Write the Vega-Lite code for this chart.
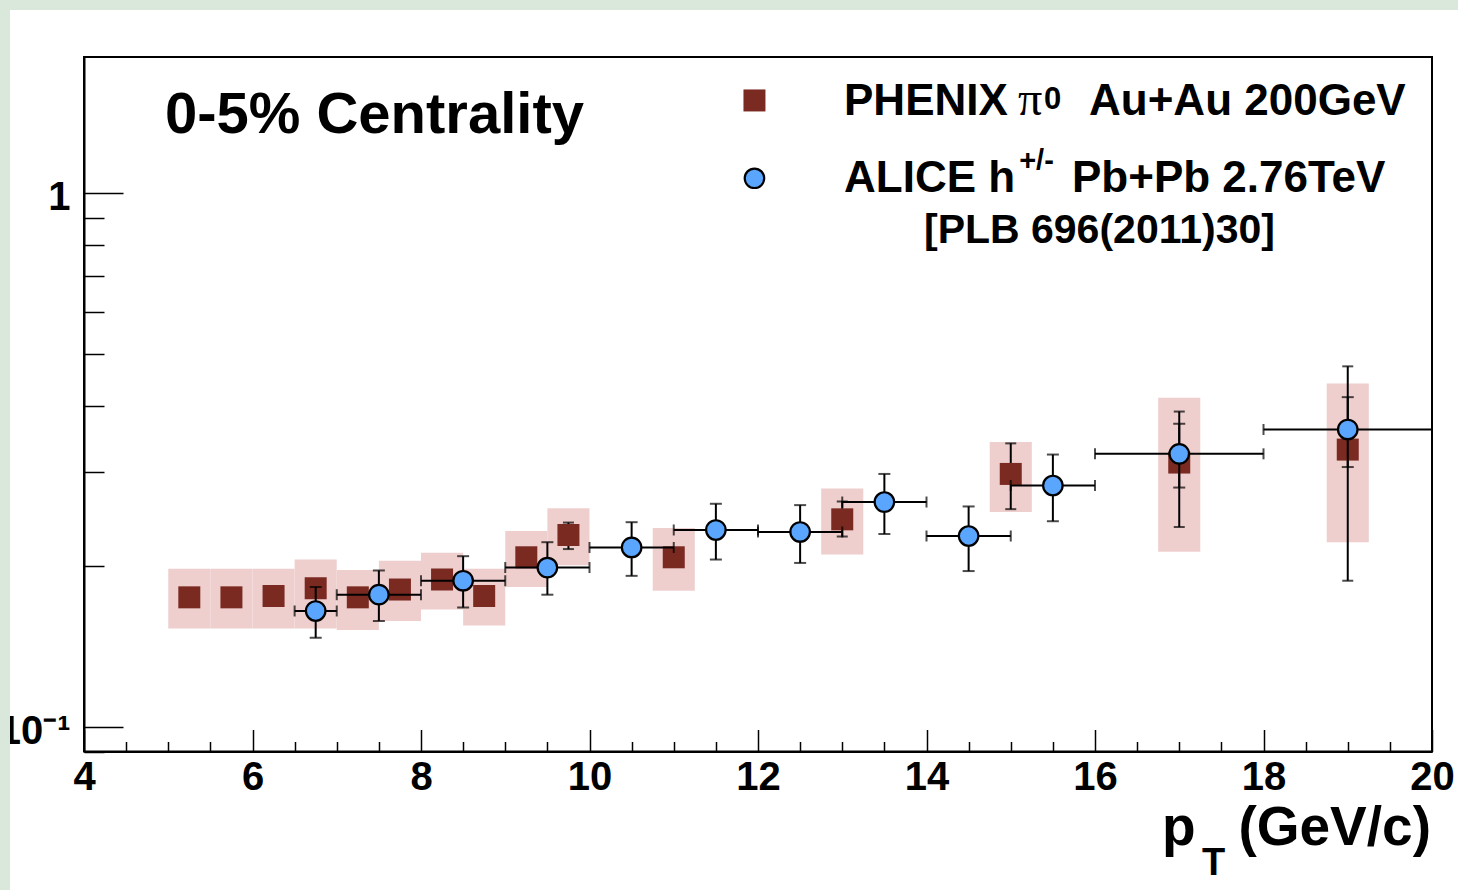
{
  "$schema": "https://vega.github.io/schema/vega-lite/v6.json",
  "autosize": {"type": "none"},
  "width": 1348,
  "height": 694.5,
  "padding": {"left": 84, "top": 57, "right": 26, "bottom": 138.5},
  "background": "white",
  "config": {
    "view": {"stroke": "black", "strokeWidth": 2},
    "font": "Liberation Sans"
  },
  "datasets": {
    "phenix": [
      {"pt": 5.25, "raa": 0.175, "sys_lo": 0.153, "sys_hi": 0.198},
      {"pt": 5.75, "raa": 0.175, "sys_lo": 0.153, "sys_hi": 0.198},
      {"pt": 6.25, "raa": 0.176, "sys_lo": 0.153, "sys_hi": 0.198},
      {"pt": 6.75, "raa": 0.182, "sys_lo": 0.153, "sys_hi": 0.206},
      {"pt": 7.25, "raa": 0.175, "sys_lo": 0.152, "sys_hi": 0.197},
      {"pt": 7.75, "raa": 0.181, "sys_lo": 0.158, "sys_hi": 0.205},
      {"pt": 8.25, "raa": 0.189, "sys_lo": 0.166, "sys_hi": 0.212},
      {"pt": 8.75, "raa": 0.176, "sys_lo": 0.155, "sys_hi": 0.198},
      {"pt": 9.25, "raa": 0.208, "sys_lo": 0.183, "sys_hi": 0.233},
      {"pt": 9.75, "raa": 0.229, "sys_lo": 0.201, "sys_hi": 0.257, "stat_lo": 0.2155, "stat_hi": 0.2416},
      {"pt": 11, "raa": 0.208, "sys_lo": 0.18, "sys_hi": 0.236},
      {"pt": 13, "raa": 0.245, "sys_lo": 0.2105, "sys_hi": 0.28, "stat_lo": 0.2275, "stat_hi": 0.2646},
      {"pt": 15, "raa": 0.298, "sys_lo": 0.253, "sys_hi": 0.342, "stat_lo": 0.256, "stat_hi": 0.34},
      {"pt": 17, "raa": 0.313, "sys_lo": 0.213, "sys_hi": 0.414, "stat_lo": 0.237, "stat_hi": 0.39},
      {"pt": 19, "raa": 0.331, "sys_lo": 0.222, "sys_hi": 0.44, "stat_lo": 0.188, "stat_hi": 0.474}
    ],
    "alice": [
      {"pt": 6.75, "pt_lo": 6.5, "pt_hi": 7, "raa": 0.165, "err_lo": 0.147, "err_hi": 0.183},
      {"pt": 7.5, "pt_lo": 7, "pt_hi": 8, "raa": 0.177, "err_lo": 0.158, "err_hi": 0.1965},
      {"pt": 8.5, "pt_lo": 8, "pt_hi": 9, "raa": 0.188, "err_lo": 0.1675, "err_hi": 0.209},
      {"pt": 9.5, "pt_lo": 9, "pt_hi": 10, "raa": 0.199, "err_lo": 0.177, "err_hi": 0.222},
      {"pt": 10.5, "pt_lo": 10, "pt_hi": 11, "raa": 0.217, "err_lo": 0.192, "err_hi": 0.242},
      {"pt": 11.5, "pt_lo": 11, "pt_hi": 12, "raa": 0.234, "err_lo": 0.206, "err_hi": 0.262},
      {"pt": 12.5, "pt_lo": 12, "pt_hi": 13, "raa": 0.232, "err_lo": 0.203, "err_hi": 0.2605},
      {"pt": 13.5, "pt_lo": 13, "pt_hi": 14, "raa": 0.264, "err_lo": 0.23, "err_hi": 0.298},
      {"pt": 14.5, "pt_lo": 14, "pt_hi": 15, "raa": 0.228, "err_lo": 0.196, "err_hi": 0.259},
      {"pt": 15.5, "pt_lo": 15, "pt_hi": 16, "raa": 0.2835, "err_lo": 0.243, "err_hi": 0.324},
      {"pt": 17, "pt_lo": 16, "pt_hi": 18, "raa": 0.325, "err_lo": 0.281, "err_hi": 0.37},
      {"pt": 19, "pt_lo": 18, "pt_hi": 20, "raa": 0.361, "err_lo": 0.307, "err_hi": 0.415}
    ]
  },
  "resolve": {"axis": {"x": "independent", "y": "independent"}},
  "layer": [
    {
      "data": {"name": "phenix"},
      "mark": {"type": "bar", "width": 42.1, "color": "#eecfce"},
      "encoding": {
        "x": {
          "field": "pt", "type": "quantitative",
          "scale": {"domain": [4, 20], "nice": false, "zero": false, "padding": 0},
          "axis": {
            "orient": "bottom", "values": [4, 6, 8, 10, 12, 14, 16, 18, 20], "format": "d",
            "tickSize": -22, "tickWidth": 1.5, "tickColor": "black",
            "domainColor": "black", "domainWidth": 2, "grid": false, "title": null,
            "labelFont": "Liberation Sans", "labelFontWeight": "bold", "labelFontSize": 40,
            "labelColor": "black", "labelPadding": 28, "labelFlush": false, "labelOverlap": false
          }
        },
        "y": {
          "field": "sys_lo", "type": "quantitative",
          "scale": {"type": "log", "domain": [0.09, 1.8], "nice": false, "padding": 0},
          "axis": {
            "orient": "left", "values": [0.1, 1],
            "labelExpr": "datum.value >= 1 ? '1' : '10\u207b\u00b9'",
            "tickSize": -39, "tickWidth": 1.5, "tickColor": "black",
            "domainColor": "black", "domainWidth": 2, "grid": false, "title": null,
            "labelFont": "Liberation Sans", "labelFontWeight": "bold", "labelFontSize": 40,
            "labelColor": "black", "labelPadding": 53, "labelOffset": 4, "labelOverlap": false
          }
        },
        "y2": {"field": "sys_hi"}
      }
    },
    {
      "data": {"name": "phenix"},
      "transform": [{"filter": "isValid(datum.stat_lo)"}],
      "mark": {"type": "errorbar", "color": "black", "thickness": 2, "ticks": {"size": 11, "thickness": 2, "color": "black"}},
      "encoding": {
        "x": {"field": "pt", "type": "quantitative", "axis": null},
        "y": {"field": "stat_lo", "type": "quantitative", "axis": null},
        "y2": {"field": "stat_hi"}
      }
    },
    {
      "data": {"name": "phenix"},
      "mark": {"type": "point", "shape": "square", "filled": true, "size": 484, "color": "#7b2a21", "opacity": 1},
      "encoding": {
        "x": {
          "field": "pt", "type": "quantitative",
          "axis": {
            "orient": "bottom", "values": [4.5, 5, 5.5, 6.5, 7, 7.5, 8.5, 9, 9.5, 10.5, 11, 11.5, 12.5, 13, 13.5, 14.5, 15, 15.5, 16.5, 17, 17.5, 18.5, 19, 19.5],
            "tickSize": -10, "tickWidth": 1.5, "tickColor": "black",
            "domain": false, "labels": false, "grid": false, "title": null
          }
        },
        "y": {
          "field": "raa", "type": "quantitative",
          "axis": {
            "orient": "left", "values": [0.09, 0.2, 0.3, 0.4, 0.5, 0.6, 0.7, 0.8, 0.9],
            "tickSize": -20, "tickWidth": 1.5, "tickColor": "black",
            "domain": false, "labels": false, "grid": false, "title": null
          }
        }
      }
    },
    {
      "data": {"name": "alice"},
      "mark": {"type": "errorbar", "color": "black", "thickness": 2, "ticks": {"size": 12, "thickness": 2, "color": "black"}},
      "encoding": {
        "x": {"field": "pt", "type": "quantitative", "axis": null},
        "y": {"field": "err_lo", "type": "quantitative", "axis": null},
        "y2": {"field": "err_hi"}
      }
    },
    {
      "data": {"name": "alice"},
      "mark": {"type": "errorbar", "color": "black", "thickness": 2, "ticks": {"size": 11, "thickness": 2, "color": "black"}},
      "encoding": {
        "x": {"field": "pt_lo", "type": "quantitative", "axis": null},
        "x2": {"field": "pt_hi"},
        "y": {"field": "raa", "type": "quantitative", "axis": null}
      }
    },
    {
      "data": {"name": "alice"},
      "mark": {"type": "point", "shape": "circle", "filled": true, "size": 380, "fill": "#5aa6ff", "stroke": "black", "strokeWidth": 2.2, "opacity": 1},
      "encoding": {
        "x": {"field": "pt", "type": "quantitative", "axis": null},
        "y": {"field": "raa", "type": "quantitative", "axis": null}
      }
    },
    {
      "data": {"values": [{}]},
      "mark": {"type": "point", "shape": "square", "filled": true, "size": 484, "color": "#7b2a21", "opacity": 1},
      "encoding": {
        "x": {"datum": 11.958, "type": "quantitative", "axis": null},
        "y": {"datum": 1.4924, "type": "quantitative", "axis": null}
      }
    },
    {
      "data": {"values": [{}]},
      "mark": {"type": "point", "shape": "circle", "filled": true, "size": 380, "fill": "#5aa6ff", "stroke": "black", "strokeWidth": 2.2, "opacity": 1},
      "encoding": {
        "x": {"datum": 11.958, "type": "quantitative", "axis": null},
        "y": {"datum": 1.0668, "type": "quantitative", "axis": null}
      }
    },
    {
      "data": {"values": [{}]},
      "mark": {"type": "text", "text": "0-5% Centrality", "font": "Liberation Sans", "fontWeight": "bold", "fontSize": 58, "align": "left", "baseline": "alphabetic", "color": "black"},
      "encoding": {
        "x": {"datum": 4.961, "type": "quantitative", "axis": null},
        "y": {"datum": 1.2971, "type": "quantitative", "axis": null}
      }
    },
    {
      "data": {"values": [{}]},
      "mark": {"type": "text", "text": "PHENIX", "font": "Liberation Sans", "fontWeight": "bold", "fontSize": 44, "align": "left", "baseline": "alphabetic", "color": "black"},
      "encoding": {
        "x": {"datum": 13.021, "type": "quantitative", "axis": null},
        "y": {"datum": 1.4018, "type": "quantitative", "axis": null}
      }
    },
    {
      "data": {"values": [{}]},
      "mark": {"type": "text", "text": "\u03c0", "font": "Liberation Serif", "fontSize": 48, "align": "left", "baseline": "alphabetic", "color": "black"},
      "encoding": {
        "x": {"datum": 15.085, "type": "quantitative", "axis": null},
        "y": {"datum": 1.4018, "type": "quantitative", "axis": null}
      }
    },
    {
      "data": {"values": [{}]},
      "mark": {"type": "text", "text": "0", "font": "Liberation Sans", "fontWeight": "bold", "fontSize": 31, "align": "left", "baseline": "alphabetic", "color": "black"},
      "encoding": {
        "x": {"datum": 15.395, "type": "quantitative", "axis": null},
        "y": {"datum": 1.437, "type": "quantitative", "axis": null}
      }
    },
    {
      "data": {"values": [{}]},
      "mark": {"type": "text", "text": "Au+Au 200GeV", "font": "Liberation Sans", "fontWeight": "bold", "fontSize": 44, "align": "left", "baseline": "alphabetic", "color": "black"},
      "encoding": {
        "x": {"datum": 15.929, "type": "quantitative", "axis": null},
        "y": {"datum": 1.4018, "type": "quantitative", "axis": null}
      }
    },
    {
      "data": {"values": [{}]},
      "mark": {"type": "text", "text": "ALICE h", "font": "Liberation Sans", "fontWeight": "bold", "fontSize": 44, "align": "left", "baseline": "alphabetic", "color": "black"},
      "encoding": {
        "x": {"datum": 13.021, "type": "quantitative", "axis": null},
        "y": {"datum": 1.0069, "type": "quantitative", "axis": null}
      }
    },
    {
      "data": {"values": [{}]},
      "mark": {"type": "text", "text": "+/-", "font": "Liberation Sans", "fontWeight": "bold", "fontSize": 29, "align": "left", "baseline": "alphabetic", "color": "black"},
      "encoding": {
        "x": {"datum": 15.1, "type": "quantitative", "axis": null},
        "y": {"datum": 1.1057, "type": "quantitative", "axis": null}
      }
    },
    {
      "data": {"values": [{}]},
      "mark": {"type": "text", "text": "Pb+Pb 2.76TeV", "font": "Liberation Sans", "fontWeight": "bold", "fontSize": 44, "align": "left", "baseline": "alphabetic", "color": "black"},
      "encoding": {
        "x": {"datum": 15.727, "type": "quantitative", "axis": null},
        "y": {"datum": 1.0069, "type": "quantitative", "axis": null}
      }
    },
    {
      "data": {"values": [{}]},
      "mark": {"type": "text", "text": "[PLB 696(2011)30]", "font": "Liberation Sans", "fontWeight": "bold", "fontSize": 41, "align": "left", "baseline": "alphabetic", "color": "black"},
      "encoding": {
        "x": {"datum": 13.97, "type": "quantitative", "axis": null},
        "y": {"datum": 0.8058, "type": "quantitative", "axis": null}
      }
    },
    {
      "data": {"values": [{}]},
      "mark": {"type": "text", "text": "(GeV/c)", "font": "Liberation Sans", "fontWeight": "bold", "fontSize": 55, "align": "right", "baseline": "alphabetic", "color": "black", "clip": false},
      "encoding": {
        "x": {"datum": 19.988, "type": "quantitative", "axis": null},
        "y": {"datum": 0.06014, "type": "quantitative", "axis": null}
      }
    },
    {
      "data": {"values": [{}]},
      "mark": {"type": "text", "text": "p", "font": "Liberation Sans", "fontWeight": "bold", "fontSize": 55, "align": "left", "baseline": "alphabetic", "color": "black", "clip": false},
      "encoding": {
        "x": {"datum": 16.795, "type": "quantitative", "axis": null},
        "y": {"datum": 0.06014, "type": "quantitative", "axis": null}
      }
    },
    {
      "data": {"values": [{}]},
      "mark": {"type": "text", "text": "T", "font": "Liberation Sans", "fontWeight": "bold", "fontSize": 38, "align": "left", "baseline": "alphabetic", "color": "black", "clip": false},
      "encoding": {
        "x": {"datum": 17.27, "type": "quantitative", "axis": null},
        "y": {"datum": 0.05283, "type": "quantitative", "axis": null}
      }
    },
    {
      "data": {"values": [{}]},
      "mark": {"type": "rect", "color": "#d9e8da", "clip": false},
      "encoding": {
        "x": {"datum": -5, "type": "quantitative", "axis": null},
        "x2": {"datum": 3.1217},
        "y": {"datum": 0.02, "type": "quantitative", "axis": null},
        "y2": {"datum": 5}
      }
    },
    {
      "data": {"values": [{}]},
      "mark": {"type": "rect", "color": "#d9e8da", "clip": false},
      "encoding": {
        "x": {"datum": -5, "type": "quantitative", "axis": null},
        "x2": {"datum": 30},
        "y": {"datum": 2.2046, "type": "quantitative", "axis": null},
        "y2": {"datum": 5}
      }
    }
  ]
}
